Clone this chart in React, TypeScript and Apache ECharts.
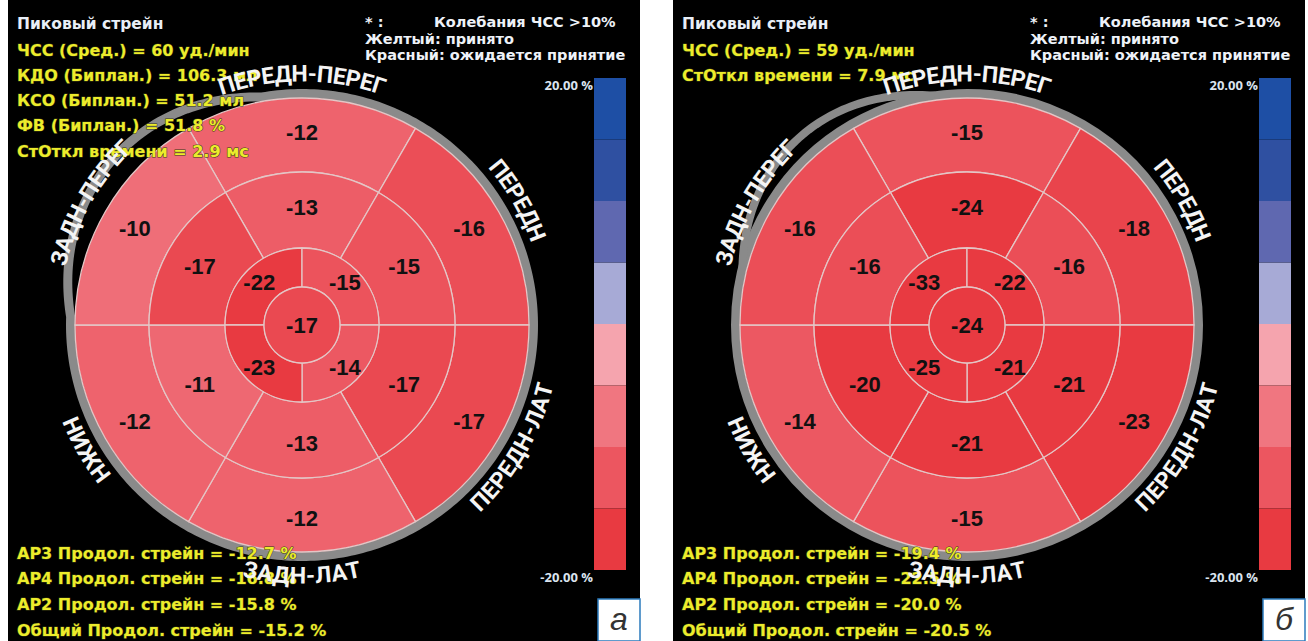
import React, { useEffect, useRef } from "react";
import * as echarts from "echarts";

// ---- Data (segment order: top, upper-right, lower-right, bottom, lower-left, upper-left) ----
const basalA = [-12, -16, -17, -12, -12, -10];
const midA = [-13, -15, -17, -13, -11, -17];
const apicalA = [-22, -15, -14, -23]; // upper-left, upper-right, lower-right, lower-left
const apexA = [-17];

const basalB = [-15, -18, -23, -15, -14, -16];
const midB = [-24, -16, -21, -21, -20, -16];
const apicalB = [-33, -22, -21, -25];
const apexB = [-24];

const wallLabels = ["ПЕРЕДН-ПЕРЕГ", "ПЕРЕДН", "ПЕРЕДН-ЛАТ", "ЗАДН-ЛАТ", "НИЖН", "ЗАДН-ПЕРЕГ"];
const wallAngles = [90, 30, -30, -90, -150, 150];

const headerTitle = "Пиковый стрейн";
const headerA = ["ЧСС (Сред.) = 60 уд./мин", "КДО (Биплан.) = 106.3 мл", "КСО (Биплан.) = 51.2 мл", "ФВ (Биплан.) = 51.8 %", "СтОткл времени = 2.9 мс"];
const headerB = ["ЧСС (Сред.) = 59 уд./мин", "СтОткл времени = 7.9 мс"];
const footerA = ["АР3 Продол. стрейн = -12.7 %", "АР4 Продол. стрейн = -16.8 %", "АР2 Продол. стрейн = -15.8 %", "Общий Продол. стрейн = -15.2 %"];
const footerB = ["АР3 Продол. стрейн = -19.4 %", "АР4 Продол. стрейн = -22.5 %", "АР2 Продол. стрейн = -20.0 %", "Общий Продол. стрейн = -20.5 %"];
const noteStar = "* :";
const noteHr = "Колебания ЧСС >10%";
const noteLines = ["Желтый: принято", "Красный: ожидается принятие"];
const panelTags = ["а", "б"];

const scaleEdges = [-20, -15, -10, -5, 0, 5, 10, 15, 20];
const scaleColors = ["#e83a41", "#ec5660", "#f07680", "#f5a4ae", "#a7aad6", "#5f68b0", "#2f50a1", "#1e4fa5"];

// ---- Styling / layout ----
const FONT_UI = "'DejaVu Sans', Verdana, sans-serif";
const FONT_SCALE = "'Open Sans', 'DejaVu Sans', sans-serif";
const FONT_WALL = "Roboto, 'DejaVu Sans', sans-serif";
const FONT_NUM = "'Liberation Sans', Arial, sans-serif";
const YELLOW = "#ecec2c";
const CY = 325;
const CX0 = 302;
const R_APEX = 38, R_APICAL = 77, R_MID = 153, R_BASAL = 227;
const RING_R = 231.5;

const measureCtx = document.createElement("canvas").getContext("2d") as CanvasRenderingContext2D;

function curvedText(text: string, cx: number, cy: number, angDeg: number, R: number, size: number) {
  measureCtx.font = `bold ${size}px ${FONT_WALL}`;
  const chars = Array.from(text);
  const widths = chars.map((c) => measureCtx.measureText(c).width);
  const total = widths.reduce((a, b) => a + b, 0);
  const a0 = (angDeg * Math.PI) / 180;
  const upper = Math.sin(a0) > 0;
  let s = 0;
  return chars.map((c, i) => {
    const mid = s + widths[i] / 2;
    s += widths[i];
    const off = (total / 2 - mid) / R;
    const phi = upper ? a0 + off : a0 - off;
    return {
      type: "text",
      x: cx + R * Math.cos(phi),
      y: cy - R * Math.sin(phi),
      rotation: upper ? phi - Math.PI / 2 : phi + Math.PI / 2,
      z: 60,
      silent: true,
      style: { text: c, fill: "#f4f4f4", fontSize: size, fontWeight: "bold", fontFamily: FONT_WALL, align: "center", verticalAlign: "middle" },
    };
  });
}

function ringPoints(cx: number, from: number, to: number, amp: number, full: boolean) {
  const pts: number[][] = [];
  const start = full ? 0 : from;
  const end = full ? 360 : to;
  for (let t = start; t <= end + 0.001; t += 1) {
    let r = RING_R;
    if (t >= from && t <= to) r += amp * Math.sin((Math.PI * (t - from)) / (to - from));
    const rad = (t * Math.PI) / 180;
    pts.push([cx + r * Math.cos(rad), CY - r * Math.sin(rad)]);
  }
  return pts;
}

function textEl(text: string, x: number, y: number, fill: string, size: number, extra: any = {}) {
  return {
    type: "text",
    x,
    y,
    z: 50,
    silent: true,
    style: {
      text,
      fill,
      fontSize: size,
      fontWeight: "bold",
      fontFamily: FONT_UI,
      align: "left",
      verticalAlign: "middle",
      ...extra,
    },
  };
}

function buildPanel(p: number, dx: number, basal: number[], mid: number[], apical: number[], apex: number[], header: string[], footer: string[], tag: string, bump: { from: number; to: number; amp: number; separate: boolean }) {
  const cx = CX0 + dx;
  const series: any[] = [];
  const pieBase = {
    type: "pie",
    center: [cx, CY],
    clockwise: true,
    silent: true,
    dimensions: ["share", "strain"],
    encode: { value: "share" },
    emphasis: { disabled: true },
    labelLine: { show: false },
    itemStyle: { borderColor: "#e4c6c6", borderWidth: 1.3 },
    label: {
      show: true,
      position: "inside",
      formatter: (pr: any) => String(pr.value[1]),
      color: "#111",
      fontSize: 22,
      fontWeight: "bold",
      fontFamily: FONT_NUM,
    },
  };
  // every segment gets an equal share of the ring; its strain drives colour and label
  const mk = (arr: number[]) => arr.map((v) => [1, v]);
  series.push({ ...pieBase, name: `basal${p}`, radius: [R_MID, R_BASAL], startAngle: 120, data: mk(basal) });
  series.push({ ...pieBase, name: `mid${p}`, radius: [R_APICAL, R_MID], startAngle: 120, data: mk(mid) });
  series.push({ ...pieBase, name: `apical${p}`, radius: [R_APEX, R_APICAL], startAngle: 180, data: mk(apical) });
  series.push({ ...pieBase, name: `apex${p}`, radius: [0, R_APEX], startAngle: 90, data: mk(apex), label: { ...pieBase.label, position: "center" } });

  // colour scale as stacked bars
  const order = [3, 2, 1, 0, 4, 5, 6, 7];
  const bars = order.map((i) => {
    const lo = scaleEdges[i], hi = scaleEdges[i + 1];
    const v = hi > 0 ? hi - lo : lo - hi;
    return {
      type: "bar",
      xAxisIndex: p,
      yAxisIndex: p,
      stack: `scale${p}`,
      barWidth: "100%",
      silent: true,
      data: [v],
      itemStyle: { color: scaleColors[i] },
    };
  });

  const grid = { left: 594 + dx, top: 78, width: 32, height: 492 };
  const xAxis = { type: "category", gridIndex: p, data: [""], show: false };
  const yAxis = {
    type: "value",
    gridIndex: p,
    min: -20,
    max: 20,
    interval: 40,
    splitLine: { show: false },
    axisLine: { show: false },
    axisTick: { show: false },
    axisLabel: {
      formatter: (v: number) => v.toFixed(2) + " %",
      color: "#dbe4ef",
      fontSize: 13,
      fontWeight: "bold",
      fontFamily: FONT_SCALE,
      verticalAlign: "top",
      margin: 1,
    },
  };

  const graphics: any[] = [];
  graphics.push({ type: "rect", shape: { x: 8 + dx, y: 0, width: 632, height: 641 }, style: { fill: "#000" }, z: 0, silent: true });
  if (bump.separate) {
    graphics.push({ type: "circle", shape: { cx, cy: CY, r: RING_R }, style: { fill: "none", stroke: "#8a8a8a", lineWidth: 9 }, z: 1, silent: true });
    graphics.push({ type: "polyline", shape: { points: ringPoints(cx, bump.from, bump.to, bump.amp, false) }, style: { fill: "none", stroke: "#8a8a8a", lineWidth: 8 }, z: 1, silent: true });
  } else {
    graphics.push({ type: "polyline", shape: { points: ringPoints(cx, bump.from, bump.to, bump.amp, true) }, style: { fill: "none", stroke: "#8a8a8a", lineWidth: 9 }, z: 1, silent: true });
  }
  wallLabels.forEach((t, i) => graphics.push(...curvedText(t, cx, CY, wallAngles[i], 251, 23)));

  const tx = 17 + dx;
  const outline = { stroke: "#3a3a10", lineWidth: 1 };
  graphics.push(textEl(headerTitle, tx, 24, "#e8eef7", 15.5));
  header.forEach((t, i) => graphics.push(textEl(t, tx, 50 + i * 25.3, YELLOW, 16, outline)));
  footer.forEach((t, i) => graphics.push(textEl(t, tx, 553 + i * 25.8, YELLOW, 16, outline)));

  graphics.push(textEl(noteStar, 365 + dx, 22, "#eef2f8", 14.5));
  graphics.push(textEl(noteHr, 434 + dx, 22, "#eef2f8", 14.5));
  noteLines.forEach((t, i) => graphics.push(textEl(t, 365 + dx, 38.5 + i * 16.5, "#eef2f8", 14.5)));

  graphics.push({ type: "rect", shape: { x: 598 + dx, y: 599, width: 42, height: 42 }, style: { fill: "#fff", stroke: "#2b7bbd", lineWidth: 1.5 }, z: 70, silent: true });
  graphics.push({
    type: "text",
    x: 619 + dx,
    y: 619,
    z: 71,
    silent: true,
    style: { text: tag, fill: "#333", fontSize: 32, fontStyle: "italic", fontFamily: FONT_NUM, align: "center", verticalAlign: "middle" },
  });

  return { pies: series, bars, grid, xAxis, yAxis, graphics };
}

export default function App() {
  const ref = useRef<HTMLDivElement>(null);
  useEffect(() => {
    const chart = echarts.init(ref.current as HTMLDivElement, null, { renderer: "svg" });
    const a = buildPanel(0, 0, basalA, midA, apicalA, apexA, headerA, footerA, panelTags[0], { from: 100, to: 178, amp: 20, separate: false });
    const b = buildPanel(1, 665, basalB, midB, apicalB, apexB, headerB, footerB, panelTags[1], { from: 98, to: 166, amp: 20, separate: true });
    const series = [...a.pies, ...b.pies, ...a.bars, ...b.bars];
    const option: any = {
      animation: false,
      backgroundColor: "#ffffff",
      grid: [a.grid, b.grid],
      xAxis: [a.xAxis, b.xAxis],
      yAxis: [a.yAxis, b.yAxis],
      visualMap: {
        type: "continuous",
        show: false,
        min: -20,
        max: 20,
        dimension: 1,
        seriesIndex: [0, 1, 2, 3, 4, 5, 6, 7],
        inRange: { color: scaleColors },
        outOfRange: { color: scaleColors[0] },
      },
      series,
      graphic: { elements: [...a.graphics, ...b.graphics] },
    };
    chart.setOption(option);
    return () => chart.dispose();
  }, []);
  return <div ref={ref} style={{ position: "absolute", left: 0, top: 0, width: 1308, height: 641 }} />;
}
